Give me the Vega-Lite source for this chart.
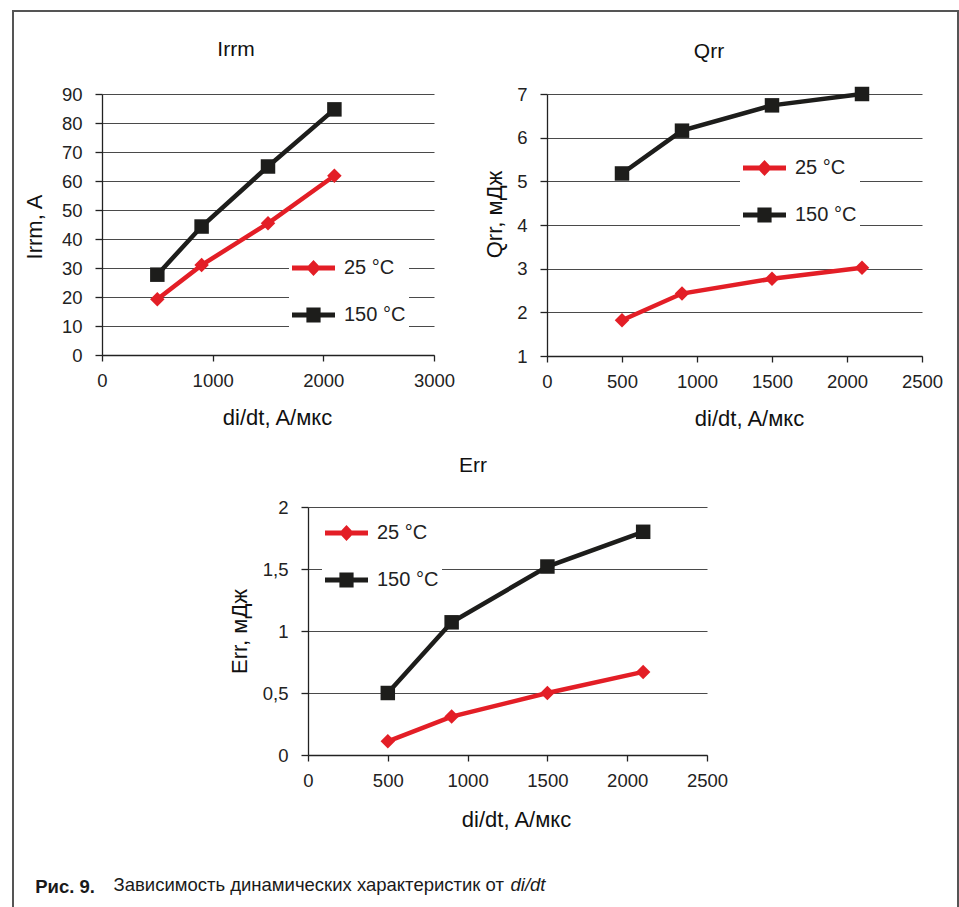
{
  "$schema": "https://vega.github.io/schema/vega-lite/v6.json",
  "padding": {"left": 9, "top": 7, "right": 0, "bottom": 0},
  "background": "white",
  "config": {
    "view": {"stroke": null},
    "font": "Liberation Sans",
    "axis": {"labelFont": "Liberation Sans", "labelFontSize": 18.5, "labelColor": "#222", "labelOverlap": false, "titleFont": "Liberation Sans", "titleFontSize": 22, "titleFontWeight": "normal", "titleColor": "#111", "domainColor": "#222", "domainWidth": 1.3, "tickColor": "#222", "tickWidth": 1.3, "gridColor": "#4a4a4a", "gridWidth": 1.1, "gridOpacity": 1},
    "axisX": {"grid": false, "tickSize": 6, "labelPadding": 10, "labelFlush": false, "format": "d", "titleBaseline": "alphabetic"},
    "axisY": {"grid": true, "tickSize": 7, "labelPadding": 13, "titleBaseline": "bottom"},
    "title": {"font": "Liberation Sans", "fontSize": 21, "fontWeight": "normal", "color": "#111"},
    "legend": {"direction": "vertical", "fillColor": "white", "padding": 3, "symbolSize": 1849, "symbolStrokeWidth": 0, "symbolOpacity": 1, "labelFont": "Liberation Sans", "labelFontSize": 20, "labelColor": "#222", "labelOffset": 9, "rowPadding": 15}
  },
  "datasets": {
    "irrm": [
      {"didt": 500, "T": "25 °C", "val": 19.2},
      {"didt": 900, "T": "25 °C", "val": 31},
      {"didt": 1500, "T": "25 °C", "val": 45.4},
      {"didt": 2100, "T": "25 °C", "val": 61.8},
      {"didt": 500, "T": "150 °C", "val": 27.7},
      {"didt": 900, "T": "150 °C", "val": 44.3},
      {"didt": 1500, "T": "150 °C", "val": 65},
      {"didt": 2100, "T": "150 °C", "val": 84.7}
    ],
    "qrr": [
      {"didt": 500, "T": "25 °C", "val": 1.82},
      {"didt": 900, "T": "25 °C", "val": 2.43},
      {"didt": 1500, "T": "25 °C", "val": 2.77},
      {"didt": 2100, "T": "25 °C", "val": 3.02},
      {"didt": 500, "T": "150 °C", "val": 5.18},
      {"didt": 900, "T": "150 °C", "val": 6.16},
      {"didt": 1500, "T": "150 °C", "val": 6.74},
      {"didt": 2100, "T": "150 °C", "val": 7.0}
    ],
    "err": [
      {"didt": 500, "T": "25 °C", "val": 0.11},
      {"didt": 900, "T": "25 °C", "val": 0.31},
      {"didt": 1500, "T": "25 °C", "val": 0.5},
      {"didt": 2100, "T": "25 °C", "val": 0.67},
      {"didt": 500, "T": "150 °C", "val": 0.5},
      {"didt": 900, "T": "150 °C", "val": 1.07},
      {"didt": 1500, "T": "150 °C", "val": 1.52},
      {"didt": 2100, "T": "150 °C", "val": 1.8}
    ],
    "frame": [{"u": 0, "v": 0}, {"u": 1, "v": 1}]
  },
  "columns": 2,
  "align": "none",
  "bounds": "flush",
  "spacing": {"row": 0, "column": -856},
  "concat": [
    {
      "width": 945,
      "height": 898,
      "view": {"stroke": "#555", "strokeWidth": 2, "fill": null},
      "data": {"name": "frame"},
      "mark": {"type": "point", "opacity": 0},
      "encoding": {
        "x": {"field": "u", "type": "quantitative", "axis": {"domain": false, "ticks": false, "labels": false, "grid": false, "title": "Зависимость динамических характеристик от", "titleX": 100, "titleY": -19, "titleAlign": "left", "titleAnchor": "start", "titleBaseline": "alphabetic", "titleFontSize": 18.5, "titleFontWeight": "normal", "titleColor": "#1a1a1a"}},
        "y": {"field": "v", "type": "quantitative", "axis": {"domain": false, "ticks": false, "labels": false, "grid": false, "title": "di/dt", "titleAngle": 0, "titleX": 497, "titleY": 879, "titleAlign": "left", "titleBaseline": "alphabetic", "titleFontStyle": "italic", "titleFontSize": 18.5, "titleFontWeight": "normal", "titleColor": "#1a1a1a"}}
      },
      "title": {"text": "Рис. 9.", "orient": "bottom", "anchor": "start", "dx": 25, "offset": -19, "baseline": "alphabetic", "fontWeight": "bold", "fontSize": 18.5, "color": "#1a1a1a"}
    },
    {
      "bounds": "flush",
      "spacing": 82,
      "vconcat": [
        {"width": 1, "height": 1, "data": {"values": []}, "mark": "point"},
        {
          "bounds": "flush",
          "spacing": 413,
          "vconcat": [
            {
              "bounds": "flush",
              "spacing": 113,
              "hconcat": [
                {
                  "width": 332,
                  "height": 261,
                  "title": {"text": "Irrm", "dx": -32, "offset": 8, "baseline": "alphabetic"},
                  "data": {"name": "irrm"},
                  "resolve": {"scale": {"color": "independent", "shape": "independent"}},
                  "layer": [
                    {
                      "mark": {"type": "line", "strokeWidth": 4.5},
                      "encoding": {
                        "x": {"field": "didt", "type": "quantitative", "scale": {"domain": [0, 3000], "nice": false}, "axis": {"values": [0, 1000, 2000, 3000], "title": "di/dt, A/мкс", "titleX": 175, "titleY": 69}},
                        "y": {"field": "val", "type": "quantitative", "scale": {"domain": [0, 90], "nice": false}, "axis": {"values": [0, 10, 20, 30, 40, 50, 60, 70, 80, 90], "tickCount": 20, "format": "d", "title": "Irrm, A", "titleX": -56, "titleY": 132.5}},
                        "color": {"field": "T", "type": "nominal", "scale": {"domain": ["25 °C", "150 °C"], "range": ["#e31e26", "#1d1d1b"]}, "legend": null}
                      }
                    },
                    {
                      "mark": {"type": "point", "filled": true, "opacity": 1, "size": 210},
                      "encoding": {
                        "x": {"field": "didt", "type": "quantitative"},
                        "y": {"field": "val", "type": "quantitative"},
                        "color": {"field": "T", "type": "nominal", "scale": {"domain": ["25 °C", "150 °C"], "range": ["#e31e26", "#1d1d1b"]}, "legend": null},
                        "shape": {"field": "T", "type": "nominal", "scale": {"domain": ["25 °C", "150 °C"], "range": ["diamond", "square"]}, "legend": null}
                      }
                    },
                    {
                      "data": {"values": []},
                      "mark": {"type": "point", "filled": true, "opacity": 1},
                      "encoding": {
                        "color": {"field": "T", "type": "nominal", "scale": {"domain": ["25 °C", "150 °C"], "range": ["#e31e26", "#1d1d1b"]}, "legend": {"orient": "none", "title": null, "legendX": 187, "legendY": 149.5}},
                        "shape": {"field": "T", "type": "nominal", "scale": {"domain": ["25 °C", "150 °C"], "range": ["M-1,-0.12H1V0.12H-1Z M0,-0.37L0.35,0L0,0.37L-0.35,0Z", "M-1,-0.12H1V0.12H-1Z M-0.33,-0.35H0.33V0.35H-0.33Z"]}, "legend": {"orient": "none", "title": null, "legendX": 187, "legendY": 149.5}}
                      }
                    }
                  ]
                },
                {
                  "width": 375,
                  "height": 262,
                  "title": {"text": "Qrr", "dx": -25.5, "offset": 6, "baseline": "alphabetic"},
                  "data": {"name": "qrr"},
                  "resolve": {"scale": {"color": "independent", "shape": "independent"}},
                  "layer": [
                    {
                      "mark": {"type": "line", "strokeWidth": 4.5},
                      "encoding": {
                        "x": {"field": "didt", "type": "quantitative", "scale": {"domain": [0, 2500], "nice": false}, "axis": {"values": [0, 500, 1000, 1500, 2000, 2500], "title": "di/dt, A/мкс", "titleX": 202, "titleY": 69}},
                        "y": {"field": "val", "type": "quantitative", "scale": {"domain": [1, 7], "nice": false, "zero": false}, "axis": {"values": [1, 2, 3, 4, 5, 6, 7], "format": "d", "title": "Qrr, мДж", "titleX": -41, "titleY": 120}},
                        "color": {"field": "T", "type": "nominal", "scale": {"domain": ["25 °C", "150 °C"], "range": ["#e31e26", "#1d1d1b"]}, "legend": null}
                      }
                    },
                    {
                      "mark": {"type": "point", "filled": true, "opacity": 1, "size": 210},
                      "encoding": {
                        "x": {"field": "didt", "type": "quantitative"},
                        "y": {"field": "val", "type": "quantitative"},
                        "color": {"field": "T", "type": "nominal", "scale": {"domain": ["25 °C", "150 °C"], "range": ["#e31e26", "#1d1d1b"]}, "legend": null},
                        "shape": {"field": "T", "type": "nominal", "scale": {"domain": ["25 °C", "150 °C"], "range": ["diamond", "square"]}, "legend": null}
                      }
                    },
                    {
                      "data": {"values": []},
                      "mark": {"type": "point", "filled": true, "opacity": 1},
                      "encoding": {
                        "color": {"field": "T", "type": "nominal", "scale": {"domain": ["25 °C", "150 °C"], "range": ["#e31e26", "#1d1d1b"]}, "legend": {"orient": "none", "title": null, "legendX": 193, "legendY": 49.5}},
                        "shape": {"field": "T", "type": "nominal", "scale": {"domain": ["25 °C", "150 °C"], "range": ["M-1,-0.12H1V0.12H-1Z M0,-0.37L0.35,0L0,0.37L-0.35,0Z", "M-1,-0.12H1V0.12H-1Z M-0.33,-0.35H0.33V0.35H-0.33Z"]}, "legend": {"orient": "none", "title": null, "legendX": 193, "legendY": 49.5}}
                      }
                    }
                  ]
                }
              ]
            },
            {
              "bounds": "flush",
              "spacing": 113,
              "hconcat": [
                {"width": 93, "height": 1, "data": {"values": []}, "mark": "point"},
                {
                  "width": 399,
                  "height": 248,
                  "title": {"text": "Err", "dx": -34.5, "offset": 5, "baseline": "alphabetic"},
                  "data": {"name": "err"},
                  "resolve": {"scale": {"color": "independent", "shape": "independent"}},
                  "layer": [
                    {
                      "mark": {"type": "line", "strokeWidth": 4.5},
                      "encoding": {
                        "x": {"field": "didt", "type": "quantitative", "scale": {"domain": [0, 2500], "nice": false}, "axis": {"values": [0, 500, 1000, 1500, 2000, 2500], "title": "di/dt, A/мкс", "titleX": 208, "titleY": 71}},
                        "y": {"field": "val", "type": "quantitative", "scale": {"domain": [0, 2], "nice": false}, "axis": {"values": [0, 0.5, 1, 1.5, 2], "labelExpr": "replace(toString(datum.value), '.', ',')", "title": "Err, мДж", "titleX": -57, "titleY": 124}},
                        "color": {"field": "T", "type": "nominal", "scale": {"domain": ["25 °C", "150 °C"], "range": ["#e31e26", "#1d1d1b"]}, "legend": null}
                      }
                    },
                    {
                      "mark": {"type": "point", "filled": true, "opacity": 1, "size": 210},
                      "encoding": {
                        "x": {"field": "didt", "type": "quantitative"},
                        "y": {"field": "val", "type": "quantitative"},
                        "color": {"field": "T", "type": "nominal", "scale": {"domain": ["25 °C", "150 °C"], "range": ["#e31e26", "#1d1d1b"]}, "legend": null},
                        "shape": {"field": "T", "type": "nominal", "scale": {"domain": ["25 °C", "150 °C"], "range": ["diamond", "square"]}, "legend": null}
                      }
                    },
                    {
                      "data": {"values": []},
                      "mark": {"type": "point", "filled": true, "opacity": 1},
                      "encoding": {
                        "color": {"field": "T", "type": "nominal", "scale": {"domain": ["25 °C", "150 °C"], "range": ["#e31e26", "#1d1d1b"]}, "legend": {"orient": "none", "title": null, "legendX": 14, "legendY": 1.5}},
                        "shape": {"field": "T", "type": "nominal", "scale": {"domain": ["25 °C", "150 °C"], "range": ["M-1,-0.12H1V0.12H-1Z M0,-0.37L0.35,0L0,0.37L-0.35,0Z", "M-1,-0.12H1V0.12H-1Z M-0.33,-0.35H0.33V0.35H-0.33Z"]}, "legend": {"orient": "none", "title": null, "legendX": 14, "legendY": 1.5}}
                      }
                    }
                  ]
                }
              ]
            }
          ]
        }
      ]
    }
  ]
}
